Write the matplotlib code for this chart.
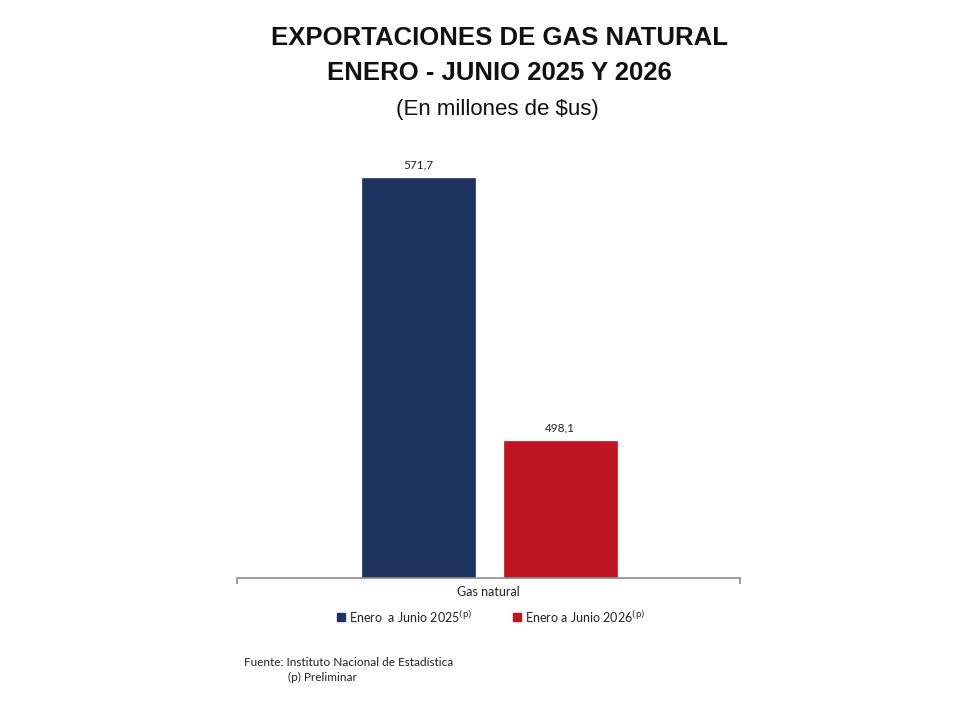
import matplotlib.pyplot as plt
from matplotlib.patches import Rectangle

categoria = "Gas natural"
series = ["Enero  a Junio 2025$^{\\mathrm{(p)}}$", "Enero a Junio 2026$^{\\mathrm{(p)}}$"]
valores = [571.7, 498.1]
etiquetas = ["571,7", "498,1"]
colores = ["#1f3360", "#be1622"]

titulo1 = "EXPORTACIONES DE GAS NATURAL"
titulo2 = "ENERO - JUNIO 2025 Y 2026"
subtitulo = "(En millones de $us)"
fuente = "Fuente: Instituto Nacional de Estadística"
nota = "(p) Preliminar"

W, H = 980, 709
fig = plt.figure(figsize=(W / 100, H / 100), dpi=100)
fig.patch.set_facecolor("white")

cond = ["Liberation Sans Narrow", "Liberation Sans", "DejaVu Sans"]
txt = ["Lato", "DejaVu Sans"]

def fx(px):
    return px / W

def fy(py):
    return 1 - py / H

# axes: left 237, right 740, bottom 578, top 140 (pixels)
ax = fig.add_axes([fx(237), fy(578), fx(740) - fx(237), (578 - 140) / H])
ax.set_xlim(-1, 1)
# baseline not at zero, fitted from the bar heights in the picture
base = 459.8
ax.set_ylim(base, 582.4)

offs = [-0.279, 0.285]
ancho = 0.449
for o, v, c, lab in zip(offs, valores, colores, etiquetas):
    ax.bar(o, v - base, bottom=base, width=ancho, color=c, edgecolor=c, linewidth=0.5)
    ax.text(o, v + 2.2, lab, ha="center", va="bottom", fontsize=8.5,
            family=txt, color="#222222")

for s in ["top", "right", "left"]:
    ax.spines[s].set_visible(False)
ax.spines["bottom"].set_color("#8c8c8c")
ax.spines["bottom"].set_linewidth(1.2)
ax.set_yticks([])
ax.set_xticks([-1, 1])
ax.set_xticklabels(["", ""])
ax.tick_params(axis="x", length=4, color="#8c8c8c", width=1.2)
ax.text(0.5, -0.018, categoria, transform=ax.transAxes, ha="center", va="top",
        fontsize=9, family=txt, color="#222222")

# legend
leg_x = [341, 517]
for x0, c, s in zip(leg_x, colores, series):
    fig.patches.append(Rectangle((fx(x0 - 4), fy(621)), 8 / W, 8 / H,
                                 transform=fig.transFigure, color=c))
    fig.text(fx(x0 + 8), fy(617), s, ha="left", va="center", fontsize=9,
             family=txt, color="#222222")

fig.text(fx(244), fy(662), fuente, ha="left", va="center", fontsize=8.5,
         family=txt, color="#222222")
fig.text(fx(288), fy(677), nota, ha="left", va="center", fontsize=8.5,
         family=txt, color="#222222")

fig.text(fx(499), fy(38), titulo1, ha="center", va="center", fontsize=18.5,
         fontweight="bold", family=cond, color="#111111")
fig.text(fx(499), fy(73), titulo2, ha="center", va="center", fontsize=18.5,
         fontweight="bold", family=cond, color="#111111")
fig.text(fx(497), fy(109), subtitulo, ha="center", va="center", fontsize=16,
         family=cond, color="#111111")

fig.savefig("out.png", dpi=100, facecolor="white")
